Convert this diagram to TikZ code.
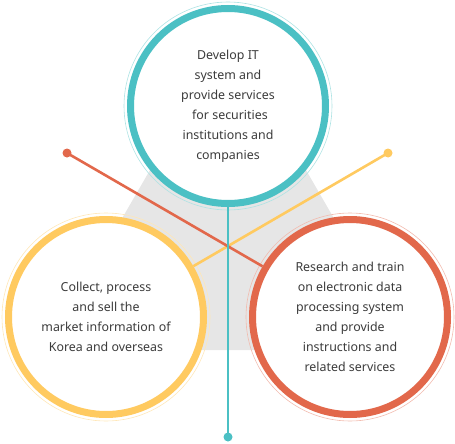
\documentclass[tikz,border=0pt]{standalone}
\usepackage{fontspec}
\setmainfont{Noto Sans}
\definecolor{tealc}{HTML}{4BC0C4}
\definecolor{yellowc}{HTML}{FFCA60}
\definecolor{orangec}{HTML}{E2684B}
\definecolor{bgray}{HTML}{E6E6E6}
\definecolor{txtc}{HTML}{3C3C3C}
\tikzset{
  ring/.style={circle, draw=#1, line width=7pt, fill=white, minimum size=195pt,
    inner sep=0pt, align=center, text=txtc, font=\fontsize{12.4}{20}\selectfont},
  halo/.style={draw=#1!45, line width=0.6pt},
  link/.style={draw=#1, line width=2.6pt},
  enddot/.style={fill=#1},
}
\begin{document}
\begin{tikzpicture}[x=1pt,y=-1pt]
    \useasboundingbox (0,0) rectangle (455,444);
    % background triangle
    \fill[bgray] (46,350) -- (228,35) -- (410,350) -- cycle;
    % three circles
    \node[ring=tealc] (top) at (228,106) {Develop IT\\system and\\provide services\\\hspace{4pt}for securities\\institutions and\\companies};
    \node[ring=yellowc] (left) at (106,317) {Collect, process\\and sell the\\market information of\\Korea and overseas};
    \node[ring=orangec] (right) at (350,317) {Research and train\\on electronic data\\processing system\\and provide\\instructions and\\related services};
    \draw[halo=tealc] (top.center) circle[radius=104pt];
    \draw[halo=yellowc] (left.center) circle[radius=104pt];
    \draw[halo=orangec] (right.center) circle[radius=104pt];
    % connectors
    \coordinate (ydot) at (388,153);
    \coordinate (odot) at (67,153);
    \coordinate (tdot) at (228,437);
    \draw[link=yellowc] (ydot) -- (left);
    \draw[link=orangec] (odot) -- (right);
    \draw[link=tealc] (top) -- (tdot);
    \fill[enddot=yellowc] (ydot) circle[radius=4.5pt];
    \fill[enddot=orangec] (odot) circle[radius=4.5pt];
    \fill[enddot=tealc] (tdot) circle[radius=4.5pt];
\end{tikzpicture}
\end{document}
